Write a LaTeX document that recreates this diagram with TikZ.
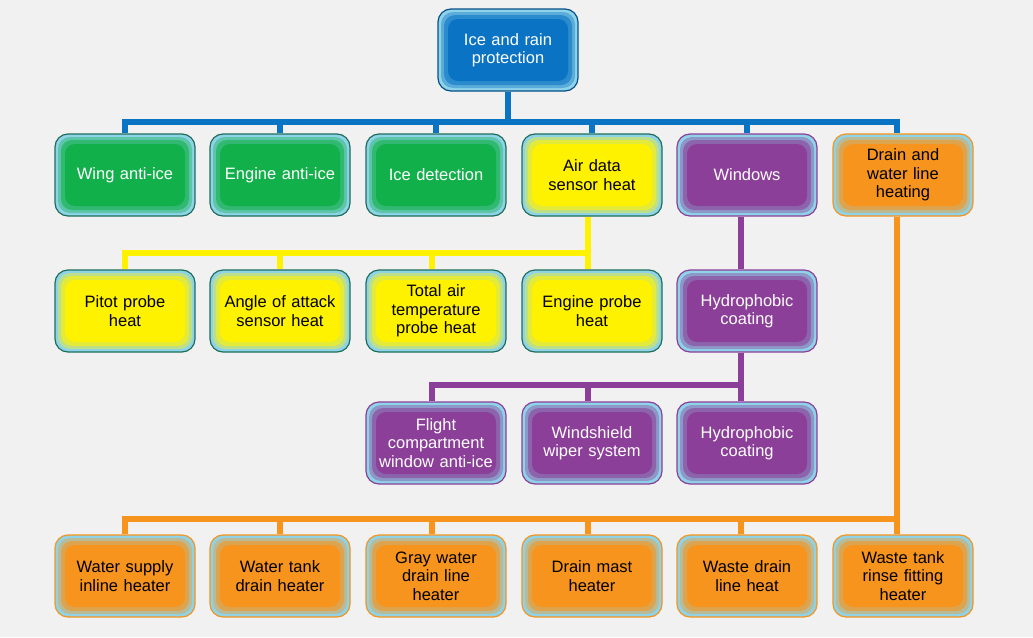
\documentclass[tikz,border=0pt]{standalone}
\usepackage{fontspec}
\setmainfont{Liberation Sans}
\pgfdeclarelayer{bg}\pgfdeclarelayer{back}
\pgfsetlayers{bg,back,main}
\definecolor{cBlue}{HTML}{0A73C4}
\definecolor{cGreen}{HTML}{12B04A}
\definecolor{cYellow}{HTML}{FFF200}
\definecolor{cPurple}{HTML}{8B3F98}
\definecolor{cOrange}{HTML}{F7941D}
\definecolor{cGlow}{HTML}{8FD3E8}
\definecolor{cTeal}{HTML}{1E6E5A}
\definecolor{cBg}{HTML}{F1F1F1}
\tikzset{
  txt/.style={font=\fontsize{16.5}{18.5}\selectfont, align=center, text width=134pt},
  conn/.style={line width=6pt},
}
% #1 name, #2 x, #3 y, #4 fill, #5 border, #6 text colour, #7 text
\newcommand\gbox[7]{%
  \begin{scope}[shift={(#2,#3)}]
    \fill[cGlow, rounded corners=13] (-70,-41) rectangle (70,41);
    \fill[#4!40!cGlow, rounded corners=12] (-67,-38) rectangle (67,38);
    \fill[#4!75!cGlow, rounded corners=11] (-64,-35) rectangle (64,35);
    \fill[#4, rounded corners=10] (-60,-31) rectangle (60,31);
    \node[txt, text=#6, draw=#5, line width=1.2pt, rounded corners=13,
          minimum width=140pt, minimum height=82pt, inner sep=0pt] (#1) at (0,0) {#7};
  \end{scope}}
\begin{document}
\begin{tikzpicture}[x=1pt,y=-1pt]
\begin{pgfonlayer}{bg}
\fill[cBg] (0,0) rectangle (1033,637);
\end{pgfonlayer}
\useasboundingbox (0,0) rectangle (1033,637);
\gbox{top}{508}{50}{cBlue}{cBlue!70!black}{white}{Ice and rain\\protection}
\gbox{w1}{125}{175}{cGreen}{cTeal}{white}{Wing anti-ice}
\gbox{w2}{280}{175}{cGreen}{cTeal}{white}{Engine anti-ice}
\gbox{w3}{436}{175}{cGreen}{cTeal}{white}{Ice detection}
\gbox{ad}{592}{175}{cYellow}{cTeal}{black}{Air data\\sensor heat}
\gbox{win}{747}{175}{cPurple}{cPurple}{white}{Windows}
\gbox{dr}{903}{175}{cOrange}{cOrange}{black}{Drain and\\water line\\heating}
\gbox{y1}{125}{311}{cYellow}{cTeal}{black}{Pitot probe\\heat}
\gbox{y2}{280}{311}{cYellow}{cTeal}{black}{Angle of attack\\sensor heat}
\gbox{y3}{436}{311}{cYellow}{cTeal}{black}{Total air\\temperature\\probe heat}
\gbox{y4}{592}{311}{cYellow}{cTeal}{black}{Engine probe\\heat}
\gbox{hyd}{747}{311}{cPurple}{cPurple}{white}{Hydrophobic\\coating}
\gbox{p1}{436}{443}{cPurple}{cPurple}{white}{Flight\\compartment\\window anti-ice}
\gbox{p2}{592}{443}{cPurple}{cPurple}{white}{Windshield\\wiper system}
\gbox{p3}{747}{443}{cPurple}{cPurple}{white}{Hydrophobic\\coating}
\gbox{o1}{125}{576}{cOrange}{cOrange}{black}{Water supply\\inline heater}
\gbox{o2}{280}{576}{cOrange}{cOrange}{black}{Water tank\\drain heater}
\gbox{o3}{436}{576}{cOrange}{cOrange}{black}{Gray water\\drain line\\heater}
\gbox{o4}{592}{576}{cOrange}{cOrange}{black}{Drain mast\\heater}
\gbox{o5}{747}{576}{cOrange}{cOrange}{black}{Waste drain\\line heat}
\gbox{o6}{903}{576}{cOrange}{cOrange}{black}{Waste tank\\rinse fitting\\heater}
\begin{pgfonlayer}{back}
\foreach \c in {w1,w2,w3,ad,win}
  \draw[conn,cBlue] (top.south) -- ++(0,30) -| (\c.north);
\draw[conn,cBlue] (top.south) -- ++(0,30) -| ([xshift=-6]dr.north);
\foreach \c in {y1,y2}
  \draw[conn,cYellow] ([xshift=-4]ad.south) -- ++(0,36) -| (\c.north);
\foreach \c in {y3,y4}
  \draw[conn,cYellow] ([xshift=-4]ad.south) -- ++(0,36) -| ([xshift=-4]\c.north);
\draw[conn,cPurple] ([xshift=-6]win.south) -- ([xshift=-6]hyd.north);
\foreach \c/\s in {p1/-4,p2/-4,p3/-6}
  \draw[conn,cPurple] ([xshift=-6]hyd.south) -- ++(0,32) -| ([xshift=\s]\c.north);
\foreach \c/\s in {o1/0,o2/0,o3/-4,o4/-4,o5/-6,o6/-6}
  \draw[conn,cOrange] ([xshift=-6]dr.south) -- ++(0,302) -| ([xshift=\s]\c.north);
\end{pgfonlayer}
\end{tikzpicture}
\end{document}
